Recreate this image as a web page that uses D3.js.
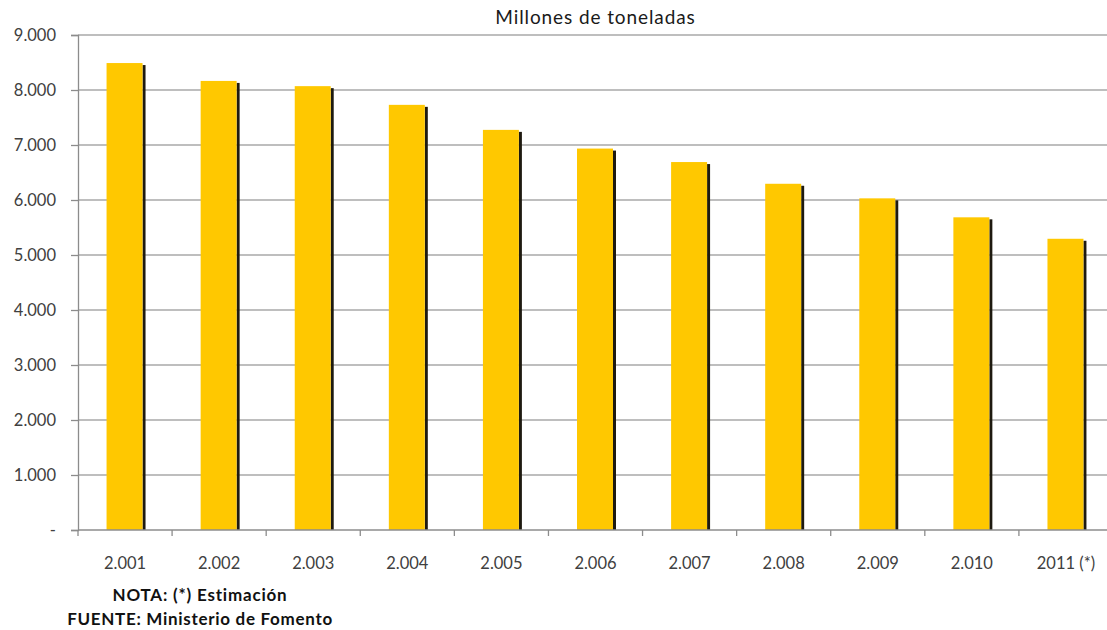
<!DOCTYPE html>
<html>
<head>
<meta charset="utf-8">
<script src="https://cdn.jsdelivr.net/npm/d3@7"></script>
<style>
  html, body { margin: 0; padding: 0; background: #fff; }
  svg { display: block; font-family: Lato, "Open Sans", sans-serif; }
</style>
</head>
<body>
<svg id="chart" width="1107" height="630"></svg>
<script>
// Mercancías transportadas, millones de toneladas
const years = ["2.001", "2.002", "2.003", "2.004", "2.005", "2.006", "2.007", "2.008", "2.009", "2.010", "2011 (*)"];
const tonnes = [8490, 8165, 8070, 7730, 7275, 6935, 6690, 6295, 6030, 5685, 5295];
const yTicks = [0, 1000, 2000, 3000, 4000, 5000, 6000, 7000, 8000, 9000];
const title = "Millones de toneladas";
const notes = ["NOTA: (*) Estimación", "FUENTE: Ministerio de Fomento"];

const svg = d3.select("#chart");
const plotLeft = 78, plotRight = 1113, plotTop = 35, plotBottom = 530;

const x = d3.scaleBand().domain(years).range([plotLeft, plotRight])
  .paddingInner(0.607).paddingOuter(0.3035);
const y = d3.scaleLinear().domain([0, 9000]).range([plotBottom, plotTop]);

const fmt = v => v === 0 ? "-" : d3.format(",")(v).replace(/,/g, ".");

// horizontal gridlines
svg.append("g").selectAll("line").data(yTicks.filter(d => d > 0)).join("line")
  .attr("x1", plotLeft).attr("x2", plotRight)
  .attr("y1", d => y(d)).attr("y2", d => y(d))
  .attr("stroke", "#a8a8a8").attr("stroke-width", 1.3);

// y axis
const yAxis = svg.append("g").attr("transform", `translate(${plotLeft},0)`)
  .call(d3.axisLeft(y).tickValues(yTicks).tickSize(7).tickPadding(15).tickFormat(fmt));
yAxis.select(".domain").attr("stroke", "#8c8c8c").attr("stroke-width", 1.3);
yAxis.selectAll(".tick line").attr("stroke", "#8c8c8c").attr("stroke-width", 1.3);
yAxis.selectAll(".tick text").attr("fill", "#404040")
  .style("font-size", "16.5px").style("font-family", "Lato, sans-serif");

// bars with a thin dark shadow on the right edge
const bars = svg.append("g");
bars.selectAll("rect.shadow").data(tonnes).join("rect").attr("class", "shadow")
  .attr("x", (d, i) => x(years[i]) + x.bandwidth() - 1)
  .attr("y", d => y(d) + 2)
  .attr("width", 3)
  .attr("height", d => plotBottom - y(d) - 2)
  .attr("fill", "#1e1a10");
bars.selectAll("rect.bar").data(tonnes).join("rect").attr("class", "bar")
  .attr("x", (d, i) => x(years[i]))
  .attr("y", d => y(d))
  .attr("width", x.bandwidth() - 1)
  .attr("height", d => plotBottom - y(d))
  .attr("fill", "#ffc800");

// x axis
const xAxis = svg.append("g").attr("transform", `translate(0,${plotBottom})`);
xAxis.append("line").attr("x1", plotLeft).attr("x2", plotRight)
  .attr("stroke", "#8c8c8c").attr("stroke-width", 1.3);
const step = x.step();
xAxis.selectAll("line.tk").data(d3.range(years.length + 1)).join("line").attr("class", "tk")
  .attr("x1", i => plotLeft + i * step).attr("x2", i => plotLeft + i * step)
  .attr("y1", 0).attr("y2", 6)
  .attr("stroke", "#8c8c8c").attr("stroke-width", 1.3);
xAxis.selectAll("text").data(years).join("text")
  .attr("x", d => x(d) + x.bandwidth() / 2)
  .attr("y", 39)
  .attr("text-anchor", "middle")
  .attr("fill", "#404040")
  .style("font-size", "16.5px")
  .text(d => d);

// title
svg.append("text")
  .attr("x", (plotLeft + plotRight) / 2).attr("y", 24)
  .attr("text-anchor", "middle").attr("fill", "#1a1a1a")
  .style("font-size", "19px").style("letter-spacing", "0.9px")
  .text(title);

// notes
svg.append("text").attr("x", 200).attr("y", 601).attr("text-anchor", "middle")
  .attr("fill", "#111").style("font-size", "17px").style("font-weight", "bold")
  .style("letter-spacing", "0.8px")
  .text(notes[0]);
svg.append("text").attr("x", 200).attr("y", 625).attr("text-anchor", "middle")
  .attr("fill", "#111").style("font-size", "17px").style("font-weight", "bold")
  .style("letter-spacing", "0.7px")
  .text(notes[1]);
</script>
</body>
</html>
